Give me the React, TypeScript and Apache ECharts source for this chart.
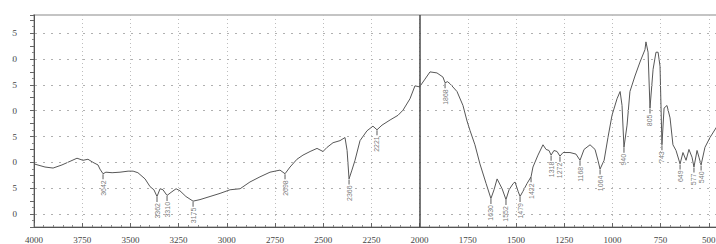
import React, { useEffect, useRef } from "react";
import * as echarts from "echarts";

// Spectrum trace (wavenumber, cm-1 -> transmittance-like value)
const wavenumbers = [
  4000, 3943, 3901, 3855, 3813, 3777, 3746, 3720, 3694, 3668, 3658, 3642, 3627, 3595, 3554, 3512, 3486, 3461,
  3424, 3398, 3378, 3362, 3346, 3331, 3310, 3289, 3263, 3243, 3212, 3175, 3139, 3087, 3035, 2983, 2931, 2880,
  2828, 2776, 2724, 2698, 2672, 2636, 2605, 2568, 2532, 2501, 2480, 2449, 2413, 2387, 2376, 2366, 2351, 2335,
  2309, 2273, 2242, 2221, 2195, 2153, 2112, 2086, 2050, 2024, 2000, 1972, 1946, 1910, 1879, 1868, 1855, 1842,
  1806, 1775, 1754, 1738, 1713, 1687, 1655, 1630, 1614, 1598, 1572, 1552, 1536, 1515, 1505, 1489, 1479, 1464,
  1443, 1422, 1412, 1386, 1360, 1344, 1329, 1318, 1303, 1287, 1272, 1256, 1220, 1189, 1168, 1147, 1116, 1090,
  1075, 1064, 1043, 1023, 1002, 976, 960, 950, 940, 924, 909, 883, 857, 831, 826, 815, 805, 789, 774, 763, 753,
  743, 732, 717, 701, 686, 670, 649, 634, 618, 603, 587, 577, 561, 551, 540, 520, 494, 462, 440,
];
const transmittance = [
  9.7, 9.1, 8.9, 9.5, 10.2, 10.8, 10.4, 10.6, 10.0, 9.5, 8.7, 7.8, 8.1, 8.0, 8.1, 8.3, 8.3, 8.0,
  6.8, 5.3, 4.7, 3.4, 4.9, 4.7, 3.6, 4.2, 4.9, 4.5, 3.4, 2.5, 2.8, 3.4, 4.0, 4.7, 4.9, 6.2,
  7.2, 8.1, 8.5, 7.8, 9.1, 10.6, 11.4, 12.1, 12.7, 12.1, 12.9, 13.8, 14.2, 14.8, 12.3, 6.8, 8.5, 10.4,
  14.2, 16.1, 17.0, 16.3, 17.2, 18.2, 19.1, 20.1, 22.3, 24.8, 24.6, 26.1, 27.5, 27.3, 26.5, 25.4, 25.6, 25.2,
  23.7, 21.0, 18.0, 16.1, 13.4, 9.7, 5.9, 3.0, 4.7, 6.8, 4.9, 2.8, 4.7, 5.9, 6.2, 4.4, 3.4, 4.4,
  5.9, 7.2, 9.1, 11.4, 13.4, 12.5, 12.3, 11.4, 12.3, 12.1, 11.2, 11.9, 11.9, 11.6, 10.4, 12.5, 13.4, 12.5,
  10.4, 8.7, 10.4, 14.8, 19.1, 22.3, 23.7, 21.0, 12.9, 17.2, 23.7, 26.7, 29.4, 31.8, 33.3, 31.3, 20.5, 28.0, 31.3, 31.3, 28.6,
  13.4, 20.5, 21.0, 18.6, 13.4, 12.3, 9.7, 11.9, 10.4, 12.5, 11.0, 9.1, 12.3, 11.0, 9.5, 12.9, 14.8, 16.7, 18.0,
];

// Annotated peaks
const peakWavenumbers = [
  3642, 3362, 3310, 3175, 2698, 2366, 2221, 1868, 1630, 1552, 1479, 1422, 1318, 1272, 1168, 1064, 940, 805, 743,
  649, 577, 540,
];
const peakValues = [
  7.8, 3.4, 3.6, 2.5, 7.8, 6.8, 16.3, 25.4, 3.0, 2.8, 3.4, 7.2, 11.4, 11.2, 10.4, 8.7, 12.9, 20.5, 13.4, 9.7,
  9.1, 9.5,
];

const gridValues = [0, 5, 10, 15, 20, 25, 30, 35];
const splitWavenumber = 2000;

export default function App() {
  const ref = useRef<HTMLDivElement>(null);

  useEffect(() => {
    if (!ref.current) return;
    const chart = echarts.init(ref.current, null, { renderer: "svg" });

    const line = wavenumbers.map((w, i) => [w, transmittance[i]]);
    const peaks = peakWavenumbers.map((w, i) => [w, peakValues[i]]);

    const markData: any[] = gridValues.map((v) => ({ yAxis: v }));
    markData.push({
      xAxis: splitWavenumber,
      lineStyle: { type: "solid", color: "#4a4a4a", width: 1.5 },
    });

    chart.setOption({
      animation: false,
      backgroundColor: "#ffffff",
      grid: {
        left: 34,
        top: 15,
        width: 723,
        height: 215,
        show: true,
        borderColor: "#c4c4c4",
        borderWidth: 2,
      },
      xAxis: {
        type: "value",
        inverse: true,
        min: 250,
        max: 4000,
        interval: 250,
        axisLine: { show: true, onZero: false, lineStyle: { color: "#555", width: 1 } },
        axisTick: { show: true, inside: true, length: 4, lineStyle: { color: "#666" } },
        minorTick: { show: true, splitNumber: 5, length: 2, lineStyle: { color: "#888" } },
        axisLabel: {
          color: "#444",
          fontSize: 9,
          fontFamily: "Liberation Serif",
          margin: 8,
          formatter: (v: number) => String(v),
        },
        splitLine: {
          show: true,
          lineStyle: { type: [1, 3], color: "#bdbdbd", width: 1 },
        },
      },
      yAxis: {
        type: "value",
        min: -2.5,
        max: 38.5,
        interval: 2.5,
        axisLine: { show: true, lineStyle: { color: "#555", width: 1 } },
        axisTick: { show: true, inside: false, length: 4, lineStyle: { color: "#666" } },
        minorTick: { show: true, splitNumber: 2, length: 2, lineStyle: { color: "#888" } },
        axisLabel: {
          color: "#444",
          fontSize: 9,
          fontFamily: "Liberation Serif",
          margin: 17,
          showMinLabel: false,
          showMaxLabel: false,
          formatter: (v: number) => (v >= 0 && Math.abs(v % 5) < 1e-6 ? String(v) : ""),
        },
        splitLine: { show: false },
      },
      series: [
        {
          type: "line",
          data: line,
          showSymbol: false,
          symbol: "none",
          lineStyle: { color: "#575757", width: 1 },
          z: 3,
          markLine: {
            silent: true,
            symbol: "none",
            label: { show: false },
            lineStyle: { type: [2, 6], color: "#b0b0b0", width: 1 },
            data: markData,
          },
        },
        {
          type: "scatter",
          data: peaks,
          symbol: "rect",
          symbolSize: [1, 5],
          symbolOffset: [0, 3],
          itemStyle: { color: "#333" },
          z: 4,
          label: {
            show: true,
            position: "bottom",
            distance: 1,
            rotate: 90,
            align: "right",
            verticalAlign: "middle",
            fontSize: 7,
            fontFamily: "Liberation Sans",
            color: "#555",
            formatter: (p: any) => String(p.value[0]),
          },
        },
      ],
    });

    return () => chart.dispose();
  }, []);

  return (
    <div
      style={{
        position: "fixed",
        left: 0,
        top: 0,
        width: 716,
        height: 244,
        overflow: "hidden",
        background: "#ffffff",
      }}
    >
      <div ref={ref} style={{ position: "absolute", left: 0, top: 0, width: 780, height: 244 }} />
      <div
        style={{ position: "absolute", left: 0, top: 0, width: 12, height: 244, background: "#ffffff" }}
      />
    </div>
  );
}
